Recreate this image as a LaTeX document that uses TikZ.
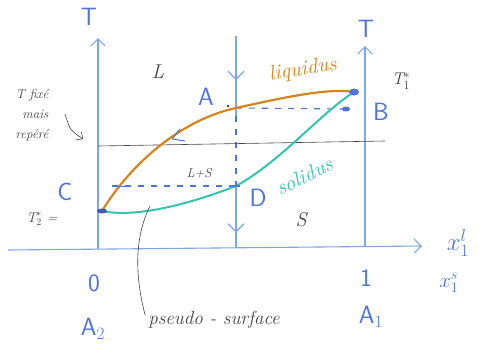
\documentclass[tikz,border=0pt]{standalone}
\usetikzlibrary{arrows.meta,decorations.markings}
\definecolor{axisblue}{HTML}{7FA6E6}
\definecolor{inkblue}{HTML}{4F74D9}
\definecolor{liqorange}{HTML}{D4861C}
\definecolor{solteal}{HTML}{33C4B0}
\definecolor{pencil}{HTML}{444444}
\newcommand{\fsz}[1]{\fontsize{#1}{#1}\selectfont}
\tikzset{
  axis/.style={draw=axisblue, line width=1.1pt},
  axisarrow/.style={axis, -{Straight Barb[length=7pt,width=14pt]}},
  midarrow/.style={decoration={markings, mark=at position #1 with {\arrow{Straight Barb[length=8pt,width=16pt]}}}, postaction=decorate},
  bluelbl/.style={text=inkblue, font=\fsz{25}\sffamily, inner sep=0pt},
  pencillbl/.style={text=pencil, font=\fsz{20}\itshape, inner sep=0pt},
  dashblue/.style={draw=inkblue, line width=1.1pt, dash pattern=on 6pt off 7pt},
  liquidus/.style={draw=liqorange, line width=2.2pt},
  solidus/.style={draw=solteal, line width=2pt},
}
\begin{document}
\begin{tikzpicture}[x=1pt,y=-1pt]
\useasboundingbox (0,0) rectangle (493,349);
% key points
\coordinate (O) at (98,249);
\coordinate (Ltop) at (98,38);
\coordinate (Xstart) at (8,250);
\coordinate (Xend) at (422,246);
\coordinate (R0) at (365,247);
\coordinate (Rtop) at (365,46);
\coordinate (Mtop) at (236,36);
\coordinate (A) at (236,108);
\coordinate (D) at (236,186);
\coordinate (Mbot) at (236,248);
\coordinate (C) at (102,211);
\coordinate (B) at (354,92);
\coordinate (Bd) at (346,109);
\coordinate (Dd) at (112,186);
\coordinate (H1) at (98,146);
\coordinate (H2) at (385,141);
% axes
\draw[axisarrow] (O) -- (Ltop);
\draw[axisarrow] (Xstart) -- (Xend);
\draw[axisarrow] (R0) -- (Rtop);
% middle vertical path
\draw[axis, midarrow=0.55] (Mtop) -- ([yshift=-8]A);
\draw[dashblue] ([yshift=-8]A) -- (D);
\draw[axis, midarrow=0.75] (D) -- (Mbot);
% fixed T line
\draw[pencil, line width=0.6pt] (H1) -- (H2);
% dashed tie lines
\draw[dashblue] (A) -- (Bd);
\draw[dashblue] (Dd) -- (D);
% curves
\draw[liquidus] (C) .. controls (130,165) and (180,120) .. (A) .. controls (290,96) and (330,88) .. (B);
\draw[solidus] (C) .. controls (140,219) and (200,200) .. (D) .. controls (280,162) and (322,112) .. (B);
% marks
\fill[inkblue] (B) ellipse (5pt and 3.5pt);
\fill[inkblue] (Bd) ellipse (4pt and 2.5pt);
\fill[inkblue!80!black] (C) ellipse (5pt and 2.5pt);
\draw[inkblue, line width=1pt] (112,186) -- (126,186);
\draw[inkblue, line width=1pt] (172,139) -- (180,129) (172,139) -- (185,141);
\draw[inkblue, line width=1.5pt] (232,186) -- (240,186);
\fill (228,106) circle (1.2pt);
% labels
\node[bluelbl] (Tl) at (89,17) {T};
\node[bluelbl] (Tr) at (366,29) {T};
\node[pencillbl] (Lreg) at (158,72) {L};
\node[bluelbl] (Alb) at (206,97) {A};
\node[bluelbl] (Blb) at (381,112) {B};
\node[bluelbl] (Clb) at (65,192) {C};
\node[bluelbl] (Dlb) at (258,198) {D};
\node[pencillbl] (Sreg) at (301,220) {S};
\node[pencillbl, font=\fsz{13}\itshape] (LS) at (199,173) {L+S};
\node[pencillbl, font=\fsz{17}\itshape] (T1) at (401,81) {T$_1^*$};
\node[pencillbl, font=\fsz{14}\itshape] (T2) at (42,219) {T$_2^*$ =};
\node[text=liqorange, font=\fsz{21}\itshape, rotate=9, inner sep=0pt] (liq) at (303,70) {liquidus};
\node[text=solteal, font=\fsz{21}\itshape, rotate=26, inner sep=0pt] (sol) at (304,176) {solidus};
\node[bluelbl] (Olb) at (94,283) {0};
\node[bluelbl] (A2) at (93,329) {A$_2$};
\node[bluelbl] (One) at (366,278) {1};
\node[bluelbl] (A1) at (371,317) {A$_1$};
\node[bluelbl, font=\fsz{25}] (x1l) at (458,243) {$x_1^{l}$};
\node[bluelbl, font=\fsz{22}] (x1s) at (449,283) {$x_1^{s}$};
\node[pencillbl, align=right, font=\fsz{13}\itshape] (Tfix) at (32,115) {T fixé\\[7pt]mais\\[7pt]repéré};
\node[pencillbl, font=\fsz{19}\itshape] (pseudo) at (214,320) {pseudo - surface};
% pointer arrows
\coordinate (Tfixtip) at (83,139);
\draw[pencil, line width=0.6pt, -{Straight Barb[length=5pt]}] (65,114) .. controls (70,130) .. (Tfixtip);
\coordinate (pstart) at (150,206);
\draw[pencil, line width=0.6pt] (pstart) .. controls (133,240) and (136,280) .. ([xshift=-3pt,yshift=-4pt]pseudo.north west);
\end{tikzpicture}
\end{document}
